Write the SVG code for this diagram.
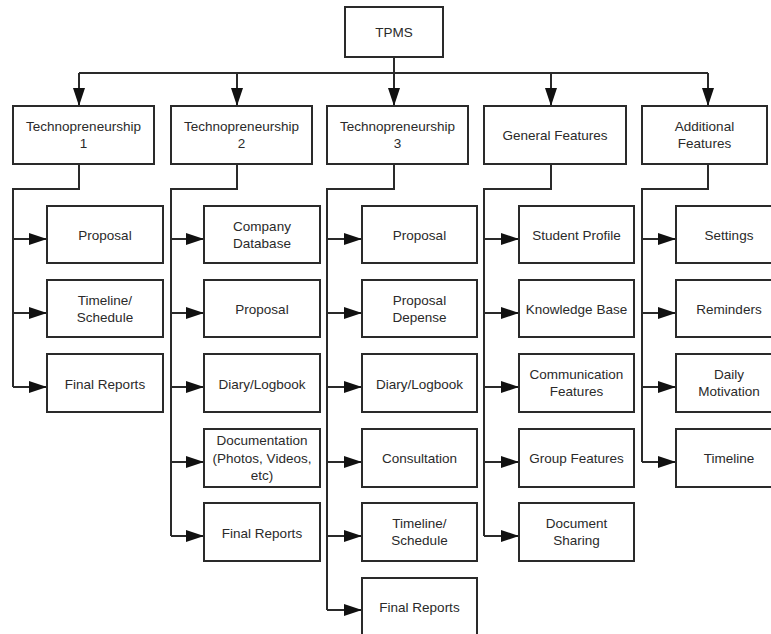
<svg xmlns="http://www.w3.org/2000/svg" width="771" height="634" viewBox="0 0 771 634">
<style>
.box{fill:#fff;stroke:#2a2a2a;stroke-width:2}
.ln{fill:none;stroke:#2a2a2a;stroke-width:2}
.t{font-family:"Liberation Sans",Arial,sans-serif;font-size:13.5px;fill:#2a2a2a;text-anchor:middle}
</style>
<defs>
<marker id="ah" markerUnits="userSpaceOnUse" markerWidth="18" markerHeight="12" refX="18" refY="6" orient="auto">
<path d="M0,0 L18,6 L0,12 z" fill="#111"/>
</marker>
</defs>
<rect width="771" height="634" fill="#fff"/>
<g id="connectors">
<path class="ln" d="M79,73 H708"/>
<path class="ln" d="M394,57 V106" marker-end="url(#ah)"/>
<path class="ln" d="M79,73 V106" marker-end="url(#ah)"/>
<path class="ln" d="M237,73 V106" marker-end="url(#ah)"/>
<path class="ln" d="M551,73 V106" marker-end="url(#ah)"/>
<path class="ln" d="M708,73 V106" marker-end="url(#ah)"/>
<path class="ln" d="M79,164 V189 H13 V387"/>
<path class="ln" d="M237,164 V189 H171 V536"/>
<path class="ln" d="M394,164 V189 H327 V610"/>
<path class="ln" d="M551,164 V189 H484 V536"/>
<path class="ln" d="M708,164 V189 H642 V462"/>
<path class="ln" d="M13,239 H47" marker-end="url(#ah)"/>
<path class="ln" d="M13,313 H47" marker-end="url(#ah)"/>
<path class="ln" d="M13,387 H47" marker-end="url(#ah)"/>
<path class="ln" d="M171,239 H204" marker-end="url(#ah)"/>
<path class="ln" d="M171,313 H204" marker-end="url(#ah)"/>
<path class="ln" d="M171,387 H204" marker-end="url(#ah)"/>
<path class="ln" d="M171,462 H204" marker-end="url(#ah)"/>
<path class="ln" d="M171,536 H204" marker-end="url(#ah)"/>
<path class="ln" d="M327,239 H362" marker-end="url(#ah)"/>
<path class="ln" d="M327,313 H362" marker-end="url(#ah)"/>
<path class="ln" d="M327,387 H362" marker-end="url(#ah)"/>
<path class="ln" d="M327,462 H362" marker-end="url(#ah)"/>
<path class="ln" d="M327,536 H362" marker-end="url(#ah)"/>
<path class="ln" d="M327,610 H362" marker-end="url(#ah)"/>
<path class="ln" d="M484,239 H519" marker-end="url(#ah)"/>
<path class="ln" d="M484,313 H519" marker-end="url(#ah)"/>
<path class="ln" d="M484,387 H519" marker-end="url(#ah)"/>
<path class="ln" d="M484,462 H519" marker-end="url(#ah)"/>
<path class="ln" d="M484,536 H519" marker-end="url(#ah)"/>
<path class="ln" d="M642,239 H676" marker-end="url(#ah)"/>
<path class="ln" d="M642,313 H676" marker-end="url(#ah)"/>
<path class="ln" d="M642,387 H676" marker-end="url(#ah)"/>
<path class="ln" d="M642,462 H676" marker-end="url(#ah)"/>
</g>
<g id="tpms"><rect class="box" x="345" y="7" width="98" height="50"/><text class="t" x="394" y="37">TPMS</text></g>
<g id="tech1"><rect class="box" x="13" y="106" width="141" height="58"/><text class="t" x="83.5" y="131">Technopreneurship</text><text class="t" x="83.5" y="148">1</text></g>
<g id="tech2"><rect class="box" x="171" y="106" width="141" height="58"/><text class="t" x="241.5" y="131">Technopreneurship</text><text class="t" x="241.5" y="148">2</text></g>
<g id="tech3"><rect class="box" x="327" y="106" width="141" height="58"/><text class="t" x="397.5" y="131">Technopreneurship</text><text class="t" x="397.5" y="148">3</text></g>
<g id="general"><rect class="box" x="484" y="106" width="142" height="58"/><text class="t" x="555" y="140">General Features</text></g>
<g id="additional"><rect class="box" x="642" y="106" width="125" height="58"/><text class="t" x="704.5" y="131">Additional</text><text class="t" x="704.5" y="148">Features</text></g>

<g id="t1-proposal"><rect class="box" x="47" y="206" width="116" height="57"/><text class="t" x="105" y="239.5">Proposal</text></g>
<g id="t1-timeline"><rect class="box" x="47" y="280" width="116" height="57"/><text class="t" x="105" y="305">Timeline/</text><text class="t" x="105" y="322">Schedule</text></g>
<g id="t1-final"><rect class="box" x="47" y="354" width="116" height="58"/><text class="t" x="105" y="388.5">Final Reports</text></g>

<g id="t2-company"><rect class="box" x="204" y="206" width="116" height="57"/><text class="t" x="262" y="231">Company</text><text class="t" x="262" y="248">Database</text></g>
<g id="t2-proposal"><rect class="box" x="204" y="280" width="116" height="57"/><text class="t" x="262" y="313.5">Proposal</text></g>
<g id="t2-diary"><rect class="box" x="204" y="354" width="116" height="58"/><text class="t" x="262" y="388.5">Diary/Logbook</text></g>
<g id="t2-doc"><rect class="box" x="204" y="429" width="116" height="58"/><text class="t" x="262" y="445">Documentation</text><text class="t" x="262" y="463">(Photos, Videos,</text><text class="t" x="262" y="480">etc)</text></g>
<g id="t2-final"><rect class="box" x="204" y="503" width="116" height="58"/><text class="t" x="262" y="537.5">Final Reports</text></g>

<g id="t3-proposal"><rect class="box" x="362" y="206" width="115" height="57"/><text class="t" x="419.5" y="239.5">Proposal</text></g>
<g id="t3-depense"><rect class="box" x="362" y="280" width="115" height="57"/><text class="t" x="419.5" y="305">Proposal</text><text class="t" x="419.5" y="322">Depense</text></g>
<g id="t3-diary"><rect class="box" x="362" y="354" width="115" height="58"/><text class="t" x="419.5" y="388.5">Diary/Logbook</text></g>
<g id="t3-consult"><rect class="box" x="362" y="429" width="115" height="58"/><text class="t" x="419.5" y="463">Consultation</text></g>
<g id="t3-timeline"><rect class="box" x="362" y="503" width="115" height="58"/><text class="t" x="419.5" y="528">Timeline/</text><text class="t" x="419.5" y="545">Schedule</text></g>
<g id="t3-final"><rect class="box" x="362" y="578" width="115" height="60"/><text class="t" x="419.5" y="612">Final Reports</text></g>

<g id="gf-student"><rect class="box" x="519" y="206" width="115" height="57"/><text class="t" x="576.5" y="239.5">Student Profile</text></g>
<g id="gf-knowledge"><rect class="box" x="519" y="280" width="115" height="57"/><text class="t" x="576.5" y="313.5">Knowledge Base</text></g>
<g id="gf-comm"><rect class="box" x="519" y="354" width="115" height="58"/><text class="t" x="576.5" y="379">Communication</text><text class="t" x="576.5" y="396">Features</text></g>
<g id="gf-group"><rect class="box" x="519" y="429" width="115" height="58"/><text class="t" x="576.5" y="463">Group Features</text></g>
<g id="gf-docshare"><rect class="box" x="519" y="503" width="115" height="58"/><text class="t" x="576.5" y="528">Document</text><text class="t" x="576.5" y="545">Sharing</text></g>

<g id="af-settings"><rect class="box" x="676" y="206" width="110" height="57"/><text class="t" x="729" y="239.5">Settings</text></g>
<g id="af-reminders"><rect class="box" x="676" y="280" width="110" height="57"/><text class="t" x="729" y="313.5">Reminders</text></g>
<g id="af-daily"><rect class="box" x="676" y="354" width="110" height="58"/><text class="t" x="729" y="379">Daily</text><text class="t" x="729" y="396">Motivation</text></g>
<g id="af-timeline"><rect class="box" x="676" y="429" width="110" height="58"/><text class="t" x="729" y="463">Timeline</text></g>
</svg>
